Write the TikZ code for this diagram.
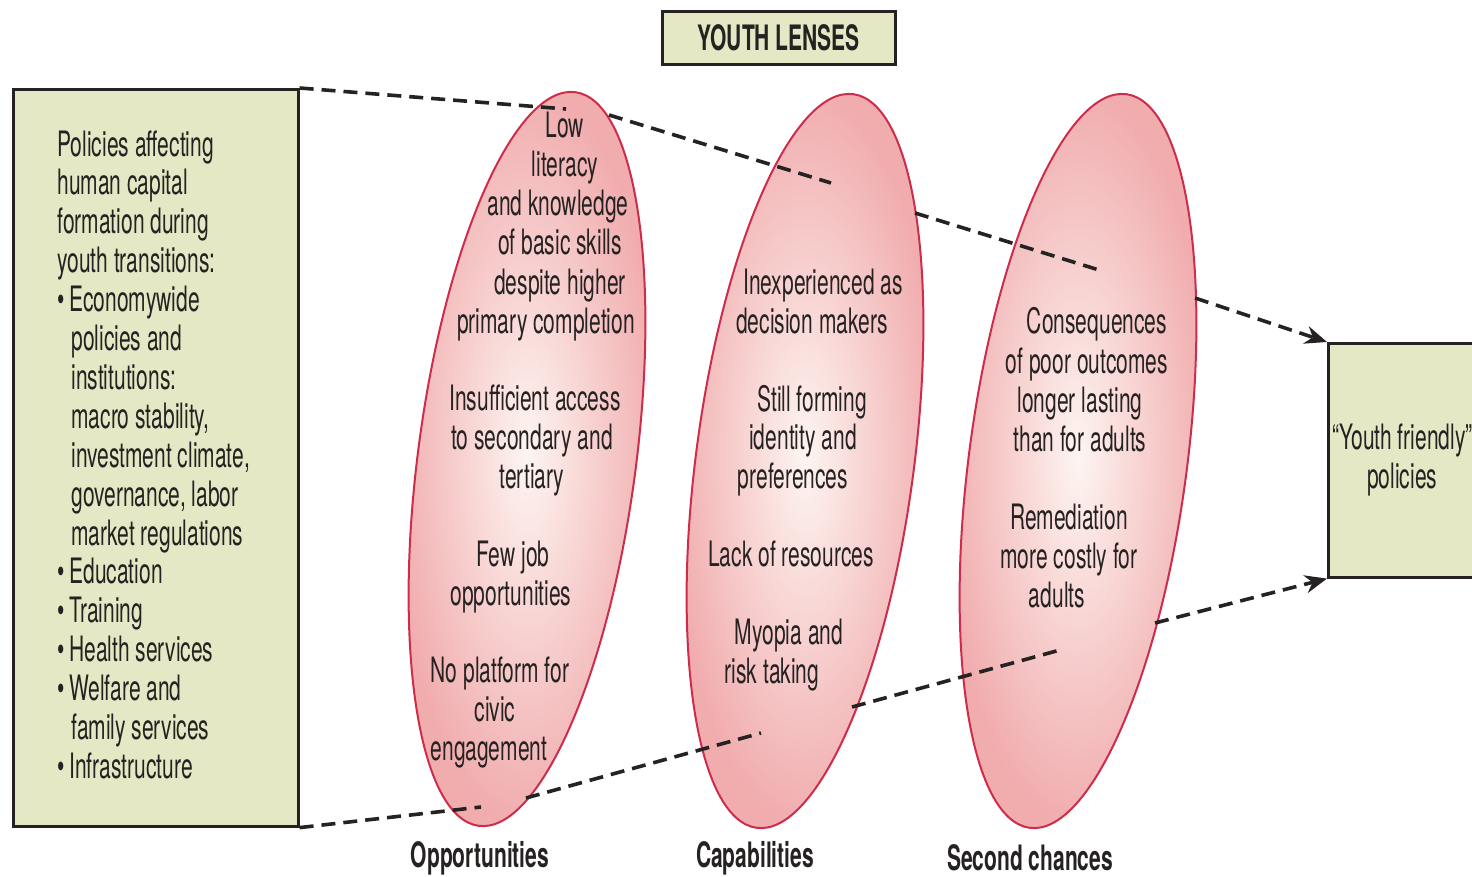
\documentclass[tikz,border=0pt]{standalone}
\usepackage{fontspec}
\setmainfont{TeX Gyre Heros}[FakeStretch=0.6]
\usetikzlibrary{arrows.meta,shapes.geometric}
\definecolor{boxfill}{RGB}{228,232,196}
\definecolor{lensout}{RGB}{241,172,174}
\definecolor{lensin}{RGB}{253,245,241}
\definecolor{lensedge}{RGB}{205,45,75}
\definecolor{inkc}{RGB}{38,34,34}
\begin{document}
\begin{tikzpicture}[x=0.5pt,y=-0.5pt,
  txt/.style={font=\fontsize{17.5}{19.45}\selectfont, text=inkc, inner sep=0pt},
  btxt/.style={font=\fontsize{17.5}{19.45}\selectfont\bfseries, text=inkc, inner sep=0pt},
  greenbox/.style={draw=inkc, line width=1.3pt, fill=boxfill, inner sep=0pt, anchor=north west},
  lensbox/.style={ellipse, draw=lensedge, line width=1pt, inner color=lensin, outer color=lensout,
    minimum width=109pt, minimum height=370pt, inner sep=0pt, rotate=-7.5},
  dline/.style={draw=inkc, line width=1.8pt, dash pattern=on 7pt off 4pt},
  arr/.style={-{Stealth[length=11pt,width=9pt]}}]
\useasboundingbox (0,0) rectangle (1472,877);
\fill[white] (0,0) rectangle (1472,877);

% boxes
\node[greenbox, minimum width=142.5pt, minimum height=368.5pt] (policy) at (12,88) {};
\node[greenbox, minimum width=74pt, minimum height=117pt, align=center, txt] (friendly) at (1327,342)
  {“Youth friendly”\\policies};
\node[greenbox, minimum width=116.5pt, minimum height=26.5pt] (title) at (661,10) {};
\node[btxt] (titletxt) at (title.center) {YOUTH LENSES};

% lenses
\node[lensbox] (lens1) at (527,459) {};
\node[lensbox] (lens2) at (805,461) {};
\node[lensbox] (lens3) at (1078,461) {};

% dashed funnel
\coordinate (t1b) at (566,109);
\coordinate (t2a) at (609,115);
\coordinate (t2b) at (831,183);
\coordinate (t3a) at (915,213);
\coordinate (t3b) at (1099,270);
\coordinate (t4a) at (1195,298);
\coordinate (b1b) at (481,807);
\coordinate (b2a) at (526,798);
\coordinate (b2b) at (761,733);
\coordinate (b3a) at (852,707);
\coordinate (b3b) at (1060,650);
\coordinate (b4a) at (1155,623);
\draw[dline] (policy.north east) -- (t1b);
\draw[dline] (t2a) -- (t2b);
\draw[dline] (t3a) -- (t3b);
\draw[dline, arr] (t4a) -- (friendly.north west);
\draw[dline] (policy.south east) -- (b1b);
\draw[dline] (b2a) -- (b2b);
\draw[dline] (b3a) -- (b3b);
\draw[dline, arr] (b4a) -- (friendly.south west);

% left box text
\node[txt, anchor=north west, align=left] (policytxt) at (57,130) {%
Policies affecting\\
human capital\\
formation during\\
youth transitions:\\
\makebox[6pt][l]{\textbullet}Economywide\\
\hspace*{7pt}policies and\\
\hspace*{7pt}institutions:\\
\hspace*{7pt}macro stability,\\
\hspace*{7pt}investment climate,\\
\hspace*{7pt}governance, labor\\
\hspace*{7pt}market regulations\\
\makebox[6pt][l]{\textbullet}Education\\
\makebox[6pt][l]{\textbullet}Training\\
\makebox[6pt][l]{\textbullet}Health services\\
\makebox[6pt][l]{\textbullet}Welfare and\\
\hspace*{7pt}family services\\
\makebox[6pt][l]{\textbullet}Infrastructure};

% lens texts
\foreach \t/\x/\y [count=\i] in {
  Low/565/127, literacy/565/166, and knowledge/558/205, of basic skills/560/244,
  despite higher/560/283, primary completion/546/322,
  Insufficient access/535/399, to secondary and/532/438, tertiary/532/477,
  Few job/513/555, opportunities/511/594,
  No platform for/500/671, civic/495/710, engagement/489/749}
  \node[txt, anchor=base] (lensAline\i) at (\x,{\y+11}) {\t};
\foreach \t/\x/\y [count=\i] in {
  Inexperienced as/823/283, decision makers/812/322,
  Still forming/812/400, identity and/803/438, preferences/793/477,
  Lack of resources/791/555,
  Myopia and/789/633, risk taking/772/672}
  \node[txt, anchor=base] (lensBline\i) at (\x,{\y+11}) {\t};
\foreach \t/\x/\y [count=\i] in {
  Consequences/1097/323, of poor outcomes/1087/362, longer lasting/1080/401,
  than for adults/1080/440,
  Remediation/1069/518, more costly for/1069/557, adults/1057/596}
  \node[txt, anchor=base] (lensCline\i) at (\x,{\y+11}) {\t};

% lens labels
\node[btxt] (lab1) at (480,858) {Opportunities};
\node[btxt] (lab2) at (755,858) {Capabilities};
\node[btxt] (lab3) at (1030,858) {Second chances};
\end{tikzpicture}
\end{document}
